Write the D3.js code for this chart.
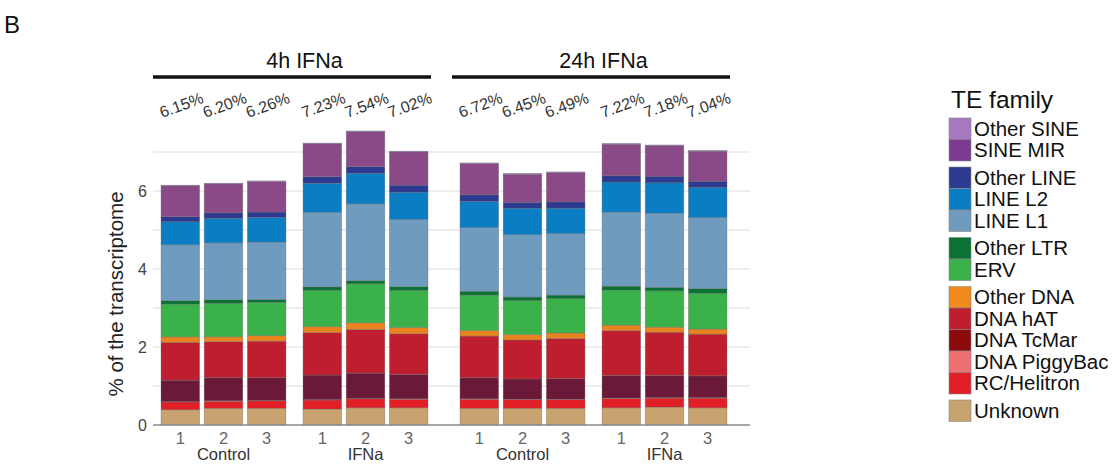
<!DOCTYPE html>
<html>
<head>
<meta charset="utf-8">
<script src="https://cdn.jsdelivr.net/npm/d3@7/dist/d3.min.js"></script>
<style>
body { margin: 0; background: #fff; }
svg { font-family: "Liberation Sans", Arial, sans-serif; }
</style>
</head>
<body>
<svg id="chart" width="1118" height="464"></svg>
<script>
// sample layout
var panels = ["4h IFNa", "24h IFNa"];
var groups = ["Control", "IFNa"];
var reps = ["1", "2", "3"];
var totals = [6.15, 6.20, 6.26, 7.23, 7.54, 7.02, 6.72, 6.45, 6.49, 7.22, 7.18, 7.04];
var totalLabels = ["6.15%", "6.20%", "6.26%", "7.23%", "7.54%", "7.02%", "6.72%", "6.45%", "6.49%", "7.22%", "7.18%", "7.04%"];

// stack order, bottom to top
var families = ["Unknown", "RC/Helitron", "DNA PiggyBac", "DNA TcMar", "DNA hAT", "Other DNA",
    "ERV", "Other LTR", "LINE L1", "LINE L2", "Other LINE", "SINE MIR", "Other SINE"];

// % of transcriptome per family, 12 samples (4h ctrl 1-3, 4h IFNa 1-3, 24h ctrl 1-3, 24h IFNa 1-3)
var unknown    = [0.39, 0.43, 0.43, 0.41, 0.44, 0.44, 0.43, 0.43, 0.43, 0.44, 0.46, 0.44];
var rcHelitron = [0.20, 0.18, 0.19, 0.23, 0.23, 0.22, 0.23, 0.22, 0.22, 0.24, 0.23, 0.25];
var piggyBac   = [0.01, 0.01, 0.01, 0.01, 0.01, 0.01, 0.01, 0.01, 0.01, 0.01, 0.01, 0.01];
var tcMar      = [0.55, 0.59, 0.58, 0.63, 0.65, 0.63, 0.54, 0.52, 0.53, 0.58, 0.57, 0.56];
var hAT        = [0.97, 0.93, 0.94, 1.09, 1.12, 1.04, 1.07, 1.00, 1.03, 1.15, 1.11, 1.07];
var otherDNA   = [0.14, 0.12, 0.14, 0.15, 0.17, 0.16, 0.14, 0.14, 0.14, 0.14, 0.13, 0.13];
var erv        = [0.84, 0.86, 0.85, 0.93, 1.00, 0.95, 0.91, 0.87, 0.88, 0.90, 0.93, 0.92];
var otherLTR   = [0.09, 0.09, 0.08, 0.09, 0.08, 0.10, 0.10, 0.09, 0.09, 0.10, 0.09, 0.12];
var lineL1     = [1.43, 1.46, 1.47, 1.91, 1.97, 1.72, 1.63, 1.60, 1.58, 1.90, 1.90, 1.82];
var lineL2     = [0.59, 0.63, 0.63, 0.75, 0.78, 0.70, 0.67, 0.68, 0.65, 0.77, 0.78, 0.77];
var otherLINE  = [0.13, 0.14, 0.14, 0.17, 0.18, 0.18, 0.17, 0.15, 0.16, 0.16, 0.17, 0.16];
var sineMIR    = [0.79, 0.74, 0.78, 0.84, 0.89, 0.85, 0.80, 0.72, 0.75, 0.81, 0.78, 0.77];
var otherSINE  = [0.02, 0.02, 0.02, 0.02, 0.02, 0.02, 0.02, 0.02, 0.02, 0.02, 0.02, 0.02];

var familyValues = [unknown, rcHelitron, piggyBac, tcMar, hAT, otherDNA, erv, otherLTR,
    lineL1, lineL2, otherLINE, sineMIR, otherSINE];

var barColors = ["#c8a36f", "#e01f26", "#ef7072", "#6a1a38", "#be1e2e", "#e8831f",
    "#3bb14a", "#0b7235", "#6f9bbf", "#0a7dc3", "#2c3b8f", "#8a4a88", "#a779c0"];
var keyColors = ["#c8a36f", "#e01f26", "#ef7072", "#8c0a0c", "#be1e2e", "#f08a1f",
    "#3bb14a", "#0b7235", "#6f9bbf", "#0a7dc3", "#2c3b8f", "#7c3b91", "#a779c0"];

// legend, top to bottom, in blocks
var legendBlocks = [
    ["Other SINE", "SINE MIR"],
    ["Other LINE", "LINE L2", "LINE L1"],
    ["Other LTR", "ERV"],
    ["Other DNA", "DNA hAT", "DNA TcMar", "DNA PiggyBac", "RC/Helitron"],
    ["Unknown"]
];

var svg = d3.select("#chart");

// build rows
var samples = [];
panels.forEach(function(p) {
    groups.forEach(function(g) {
        reps.forEach(function(r) {
            samples.push({panel: p, group: g, rep: r});
        });
    });
});
samples.forEach(function(s, i) {
    families.forEach(function(f, k) {
        s[f] = familyValues[k][i];
    });
    s.total = totals[i];
    s.label = totalLabels[i];
});

var series = d3.stack().keys(families)(samples);

var x0 = d3.scaleBand().domain(panels).range([161, 727]).paddingInner(0.107);
var x1 = d3.scaleBand().domain(groups).range([0, x0.bandwidth()]).paddingInner(0.12);
var x2 = d3.scaleBand().domain(reps).range([0, x1.bandwidth()]).paddingInner(0.105);
var xPos = function(s) { return x0(s.panel) + x1(s.group) + x2(s.rep); };

var y = d3.scaleLinear().domain([0, 7.5]).range([425, 132.5]);

var gridL = 153, gridR = 750;

// gridlines
svg.append("g").selectAll("line")
    .data(d3.range(1, 8))
    .join("line")
    .attr("x1", gridL).attr("x2", gridR)
    .attr("y1", function(d) { return y(d); })
    .attr("y2", function(d) { return y(d); })
    .attr("stroke", "#dcdcdc")
    .attr("stroke-width", 1);

// y axis labels
var yAxis = svg.append("g")
    .attr("transform", "translate(" + gridL + ",0)")
    .call(d3.axisLeft(y).tickValues([0, 2, 4, 6]).tickSize(0).tickPadding(6));
yAxis.select(".domain").remove();
yAxis.selectAll("text")
    .attr("font-size", 16)
    .attr("fill", "#444")
    .attr("font-family", "Liberation Sans, Arial, sans-serif");

svg.append("text")
    .attr("transform", "translate(123,294) rotate(-90)")
    .attr("text-anchor", "middle")
    .attr("font-size", 20.5)
    .attr("fill", "#222")
    .text("% of the transcriptome");

// bars
svg.append("g").selectAll("g")
    .data(series)
    .join("g")
    .attr("fill", function(d, i) { return barColors[i]; })
    .selectAll("rect")
    .data(function(d) { return d; })
    .join("rect")
    .attr("x", function(d) { return xPos(d.data); })
    .attr("y", function(d) { return y(d[1]); })
    .attr("width", x2.bandwidth())
    .attr("height", function(d) { return y(d[0]) - y(d[1]); })
    .attr("stroke", "#6d6d6d")
    .attr("stroke-opacity", 0.55)
    .attr("stroke-width", 0.6);

// baseline
svg.append("line")
    .attr("x1", gridL).attr("x2", gridR)
    .attr("y1", y(0)).attr("y2", y(0))
    .attr("stroke", "#8a8a8a")
    .attr("stroke-width", 1.5);

// replicate numbers
svg.append("g").selectAll("text")
    .data(samples)
    .join("text")
    .attr("x", function(d) { return xPos(d) + x2.bandwidth() / 2; })
    .attr("y", 444)
    .attr("text-anchor", "middle")
    .attr("font-size", 16.5)
    .attr("fill", "#666")
    .text(function(d) { return d.rep; });

// group names
var groupCells = [];
panels.forEach(function(p) {
    groups.forEach(function(g) { groupCells.push({panel: p, group: g}); });
});
svg.append("g").selectAll("text")
    .data(groupCells)
    .join("text")
    .attr("x", function(d) { return x0(d.panel) + x1(d.group) + x1.bandwidth() / 2; })
    .attr("y", 460)
    .attr("text-anchor", "middle")
    .attr("font-size", 16.5)
    .attr("fill", "#333")
    .text(function(d) { return d.group; });

// total labels
svg.append("g").selectAll("text")
    .data(samples)
    .join("text")
    .attr("transform", function(d) { return "translate(" + (xPos(d) + 1) + ",118) rotate(-20)"; })
    .attr("font-size", 16)
    .attr("fill", "#333")
    .text(function(d) { return d.label; });

// panel headers
var heads = svg.append("g").selectAll("g")
    .data(panels)
    .join("g");
heads.append("line")
    .attr("x1", function(d) { return x0(d) - 8; })
    .attr("x2", function(d) { return x0(d) + x0.bandwidth() + 3; })
    .attr("y1", 77).attr("y2", 77)
    .attr("stroke", "#111")
    .attr("stroke-width", 3.5);
heads.append("text")
    .attr("x", function(d) { return x0(d) + x0.bandwidth() / 2 + 10; })
    .attr("y", 68)
    .attr("text-anchor", "middle")
    .attr("font-size", 21.5)
    .attr("fill", "#111")
    .text(function(d) { return d; });

// panel letter
svg.append("text")
    .attr("x", 4).attr("y", 33)
    .attr("font-size", 24)
    .attr("fill", "#111")
    .text("B");

// legend
var legend = svg.append("g");
legend.append("text")
    .attr("x", 951).attr("y", 108)
    .attr("font-size", 24.5)
    .attr("fill", "#111")
    .text("TE family");

var rowH = 21.5, blockGap = 6;
var ly = 118;
legendBlocks.forEach(function(block) {
    block.forEach(function(name) {
        var k = families.indexOf(name);
        legend.append("rect")
            .attr("x", 949).attr("y", ly)
            .attr("width", 22).attr("height", rowH)
            .attr("fill", keyColors[k])
            .attr("stroke", "#888")
            .attr("stroke-width", 0.6);
        legend.append("text")
            .attr("x", 974).attr("y", ly + rowH / 2 + 7)
            .attr("font-size", 20.5)
            .attr("fill", "#111")
            .text(name);
        ly += rowH;
    });
    ly += blockGap;
});
</script>
</body>
</html>
